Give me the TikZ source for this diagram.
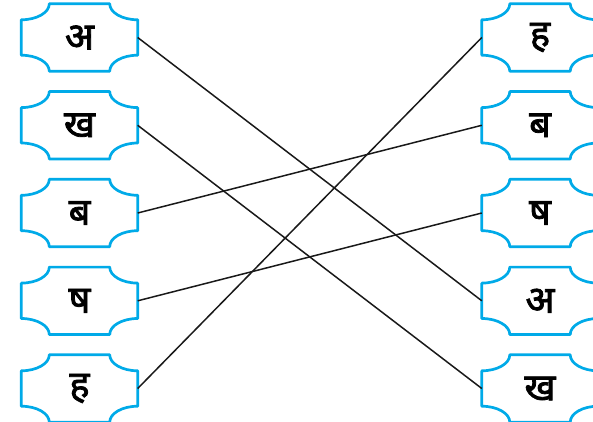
\documentclass[tikz,border=0pt]{standalone}
\usepackage{fontspec}
\newfontfamily\deva[Script=Devanagari, FakeBold=2]{Noto Sans}
\definecolor{tileblue}{RGB}{0,170,232}
\tikzset{
  tileline/.style={draw=tileblue, line width=2.7pt, line join=round},
  tile/.style={minimum width=116pt, minimum height=67pt, inner sep=0pt,
    font=\deva\fontsize{38}{40}\selectfont},
  link/.style={draw=black!90, line width=1.5pt}
}
\newcommand{\tileoutline}[1]{%
  \draw[tileline] ([yshift=-16pt]#1.north west) -- ([yshift=16pt]#1.south west)
    arc[start angle=90, end angle=0, x radius=28pt, y radius=16pt]
    -- ([xshift=-28pt]#1.south east)
    arc[start angle=180, end angle=90, x radius=28pt, y radius=16pt]
    -- ([yshift=-16pt]#1.north east)
    arc[start angle=270, end angle=180, x radius=28pt, y radius=16pt]
    -- ([xshift=28pt]#1.north west)
    arc[start angle=0, end angle=-90, x radius=28pt, y radius=16pt]
    -- cycle;}
\begin{document}
\begin{tikzpicture}[x=1pt,y=1pt]
\useasboundingbox (0,0) rectangle (593,421);
\node[tile] (L1) at (79.5,383.5) {अ};
\node[tile] (L2) at (79.5,295.7) {ख};
\node[tile] (L3) at (79.5,208) {ब};
\node[tile] (L4) at (79.5,120.2) {ष};
\node[tile] (L5) at (79.5,32.5) {ह};
\node[tile] (R1) at (540,383.5) {ह};
\node[tile] (R2) at (540,295.7) {ब};
\node[tile] (R3) at (540,208) {ष};
\node[tile] (R4) at (540,120.2) {अ};
\node[tile] (R5) at (540,32.5) {ख};
\foreach \n in {L1,L2,L3,L4,L5,R1,R2,R3,R4,R5}{\tileoutline{\n}}
\draw[link] (L1.east) -- (R4.west);
\draw[link] (L2.east) -- (R5.west);
\draw[link] (L3.east) -- (R2.west);
\draw[link] (L4.east) -- (R3.west);
\draw[link] (L5.east) -- (R1.west);
\end{tikzpicture}
\end{document}
